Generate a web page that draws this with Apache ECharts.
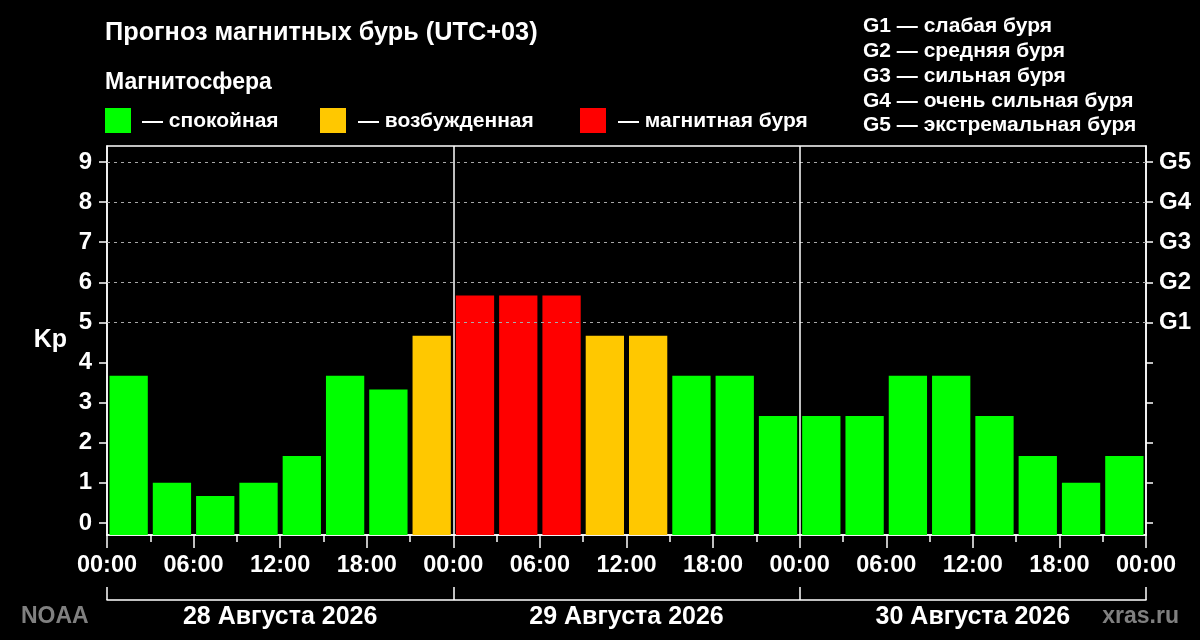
<!DOCTYPE html>
<html>
<head>
<meta charset="utf-8">
<script src="https://cdn.jsdelivr.net/npm/echarts@6/dist/echarts.min.js"></script>
<style>
  html, body { margin: 0; padding: 0; background: #000; }
  #chart { width: 1200px; height: 640px; }
</style>
</head>
<body>
<div id="chart"></div>
<script>
// Kp forecast, one value per 3-hour slot, three days (UTC+03)
const kpValues = [
  3.67, 1.0, 0.67, 1.0, 1.67, 3.67, 3.33, 4.67,
  5.67, 5.67, 5.67, 4.67, 4.67, 3.67, 3.67, 2.67,
  2.67, 2.67, 3.67, 3.67, 2.67, 1.67, 1.0, 1.67
]
const slotHours = 3
const dayLabels = ['28 Августа 2026', '29 Августа 2026', '30 Августа 2026']
const kpTicks = [0, 1, 2, 3, 4, 5, 6, 7, 8, 9]
const stormTicks = [5, 6, 7, 8, 9]
const dayBreaks = [24, 48]
const stateLegend = ['— спокойная', '— возбужденная', '— магнитная буря']
const stormLegend = [
  'G1 — слабая буря',
  'G2 — средняя буря',
  'G3 — сильная буря',
  'G4 — очень сильная буря',
  'G5 — экстремальная буря'
]

const GREEN = '#00ff00'
const YELLOW = '#ffc800'
const RED = '#ff0000'
const FONT = '"Liberation Sans", Arial, sans-serif'
const Y_MIN = -0.3
const Y_MAX = 9.4

function kpColor(kp) {
  if (kp >= 5) return RED
  if (kp >= 4) return YELLOW
  return GREEN
}

const barData = kpValues.map((kp, i) => [i * slotHours, (i + 1) * slotHours, kp])

const chart = echarts.init(document.getElementById('chart'), null, { renderer: 'canvas' })

const boldText = (size, color = '#fff') => ({
  color, fontSize: size, fontWeight: 'bold', fontFamily: FONT
})
const whiteLine = { color: '#fff', width: 1.5 }

chart.setOption({
  backgroundColor: '#000',
  animation: false,
  title: [
    { text: 'Прогноз магнитных бурь (UTC+03)', left: 105, top: 21, padding: 0, textStyle: boldText(25.3) },
    { text: 'Магнитосфера', left: 105, top: 71, padding: 0, textStyle: boldText(23) },
    {
      text: stormLegend.join('\n'),
      left: 863, top: 14, padding: 0,
      textStyle: { ...boldText(21), lineHeight: 24.8 }
    }
  ],
  graphic: [
    { type: 'rect', left: 105, top: 108, shape: { width: 26, height: 25 }, style: { fill: GREEN } },
    { type: 'text', left: 142, top: 111, style: { text: stateLegend[0], fill: '#fff', font: 'bold 21px ' + FONT } },
    { type: 'rect', left: 320, top: 108, shape: { width: 26, height: 25 }, style: { fill: YELLOW } },
    { type: 'text', left: 358, top: 111, style: { text: stateLegend[1], fill: '#fff', font: 'bold 21px ' + FONT } },
    { type: 'rect', left: 580, top: 108, shape: { width: 26, height: 25 }, style: { fill: RED } },
    { type: 'text', left: 618, top: 111, style: { text: stateLegend[2], fill: '#fff', font: 'bold 21px ' + FONT } },
    { type: 'text', left: 21, top: 605, style: { text: 'NOAA', fill: '#808080', font: 'bold 23px ' + FONT } },
    { type: 'text', right: 21, top: 605, style: { text: 'xras.ru', fill: '#808080', font: 'bold 23px ' + FONT } }
  ],
  grid: {
    left: 107, right: 54, top: 146, bottom: 105,
    show: true, borderColor: '#fff', borderWidth: 1.5, backgroundColor: 'transparent'
  },
  xAxis: [
    {
      type: 'value', min: 0, max: 72, interval: 6,
      axisLine: { show: true, onZero: false, lineStyle: whiteLine },
      axisTick: { show: true, length: 13, lineStyle: whiteLine },
      minorTick: { show: true, splitNumber: 2, length: 7, lineStyle: whiteLine },
      splitLine: { show: false },
      axisLabel: {
        ...boldText(23.5), margin: 19, showMinLabel: true, showMaxLabel: true,
        formatter: v => String(v % 24).padStart(2, '0') + ':00'
      }
    },
    {
      type: 'category', data: dayLabels, position: 'bottom', offset: 65,
      boundaryGap: true,
      axisLine: { show: true, onZero: false, lineStyle: whiteLine },
      axisTick: { show: true, inside: true, length: 13, interval: 0, lineStyle: whiteLine },
      splitLine: { show: false },
      axisLabel: { ...boldText(25), margin: 5, interval: 0 }
    }
  ],
  yAxis: [
    {
      type: 'value', min: Y_MIN, max: Y_MAX, position: 'left',
      name: 'Kp', nameLocation: 'middle', nameRotate: 0, nameGap: 40,
      nameTextStyle: boldText(25),
      axisLine: { show: true, onZero: false, lineStyle: whiteLine },
      axisTick: { show: true, length: 8, customValues: kpTicks, lineStyle: whiteLine },
      splitLine: { show: false },
      axisLabel: { ...boldText(24), margin: 15, customValues: kpTicks }
    },
    {
      type: 'value', min: Y_MIN, max: Y_MAX, position: 'right',
      axisLine: { show: true, onZero: false, lineStyle: whiteLine },
      axisTick: { show: true, length: 7, customValues: kpTicks, lineStyle: whiteLine },
      splitLine: { show: false },
      axisLabel: {
        ...boldText(24), margin: 13, customValues: stormTicks,
        formatter: v => 'G' + (v - 4)
      }
    }
  ],
  series: [
    {
      type: 'custom',
      xAxisIndex: 0,
      yAxisIndex: 0,
      silent: true,
      data: barData,
      renderItem(params, api) {
        const start = api.value(0)
        const end = api.value(1)
        const kp = api.value(2)
        const top = api.coord([start, kp])
        const bottom = api.coord([end, Y_MIN])
        return {
          type: 'rect',
          shape: {
            x: top[0] + 2.5,
            y: top[1],
            width: bottom[0] - top[0] - 5,
            height: bottom[1] - top[1]
          },
          style: { fill: kpColor(kp) }
        }
      },
      markLine: {
        silent: true,
        symbol: 'none',
        label: { show: false },
        data: [
          ...stormTicks.map(v => ({ yAxis: v, lineStyle: { color: '#a8a8a8', type: [3, 4], width: 1.2 } })),
          ...dayBreaks.map(v => ({ xAxis: v, lineStyle: { color: '#fff', type: 'solid', width: 1.5 } }))
        ]
      },
      z: 2
    }
  ]
})

window.addEventListener('resize', () => chart.resize())
</script>
</body>
</html>
